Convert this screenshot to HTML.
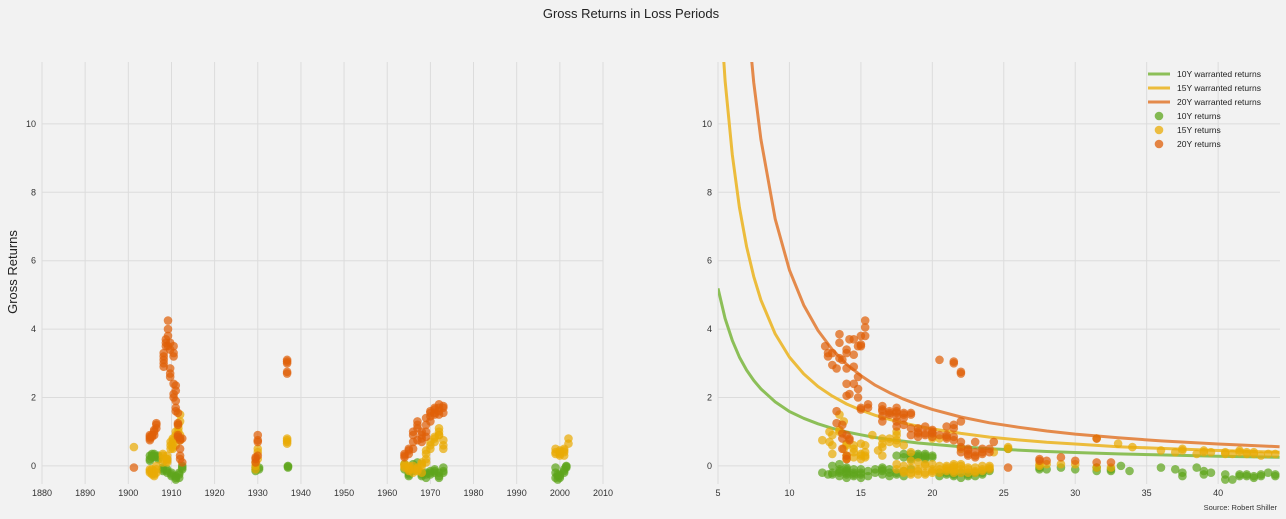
<!DOCTYPE html>
<html><head><meta charset="utf-8">
<style>
html,body{margin:0;padding:0;background:#f2f2f2;}
svg{display:block;font-family:"Liberation Sans","DejaVu Sans",sans-serif;}
</style></head>
<body>
<svg id="chart" width="1286" height="519" viewBox="0 0 1286 519" xmlns="http://www.w3.org/2000/svg">
<rect width="1286" height="519" fill="#f2f2f2"/>
<text x="631" y="18" text-anchor="middle" font-size="13" fill="#222">Gross Returns in Loss Periods</text>
<text transform="translate(17,272) rotate(-90)" text-anchor="middle" font-size="13" fill="#222">Gross Returns</text>
<text x="1277" y="510" text-anchor="end" font-size="7.5" fill="#333">Source: Robert Shiller</text>
<g id="left"></g>
<g id="right"></g>
</svg>
<script>
// ---- data ----
const leftXTicks = [1880,1890,1900,1910,1920,1930,1940,1950,1960,1970,1980,1990,2000,2010];
const rightXTicks = [5,10,15,20,25,30,35,40];
const yTicks = [0,2,4,6,8,10];
const leftGreen = [[1905,[0.15,0.2,0.3]],[1905.5,[0.25,0.35,0.3]],[1906,[0.3,0.35,0.25]],[1907,[0.25,0.3,0.2]],[1908,[-0.1,-0.05,-0.15]],[1909,[-0.15,-0.2,-0.1]],[1910,[-0.25,-0.2,-0.3]],[1911,[-0.35,-0.4,-0.3]],[1911.8,[-0.35,-0.25,-0.2]],[1912.5,[-0.1,-0.05,0.0]],[1929.5,[-0.1,-0.15,-0.05]],[1930.3,[-0.05,-0.1]],[1937,[-0.02,-0.05,0.0]],[1964,[0.05,-0.1]],[1965,[-0.3,-0.25,-0.2]],[1966,[-0.15,-0.1,0.05]],[1967,[0.1,-0.1]],[1968,[-0.25,-0.3,-0.2]],[1969,[-0.35,-0.2,-0.25]],[1970,[-0.2,-0.15,-0.25]],[1971,[-0.1,-0.2,-0.15]],[1972,[-0.2,-0.3,-0.35]],[1973,[-0.05,-0.15,-0.2]],[1999,[-0.05,-0.2,-0.35]],[1999.5,[-0.4,-0.3,-0.25]],[2000,[-0.35,-0.3,-0.25]],[2001,[-0.2,-0.15,-0.1]],[2001.5,[-0.05,0.0,-0.02]]];
const leftYellow = [[1901.3,[0.55]],[1905,[-0.1,-0.15,-0.2]],[1905.5,[-0.25,-0.2,-0.1]],[1906,[-0.15,-0.25,-0.3]],[1906.5,[-0.2,-0.1,0.0]],[1908,[0.1,0.2,0.3,0.35]],[1909,[0.1,0.15,0.2,0.3,0.2]],[1909.8,[0.5,0.6,0.7]],[1910.3,[0.8,0.75,0.65,0.55,0.5]],[1911,[0.6,0.9,1.0]],[1911.6,[1.1,1.2,1.0]],[1912,[1.3,1.5,0.9,0.75]],[1929.5,[0.0,-0.1,0.1]],[1930,[0.2,0.4,0.5]],[1936.8,[0.65,0.7,0.75,0.8]],[1964,[0,-0.05,0.05]],[1965,[-0.05,-0.1,0.0,-0.15]],[1966,[0.0,-0.1,-0.2]],[1967,[-0.1,-0.15,-0.05]],[1968,[0.0,0.1,-0.2,0.05]],[1969,[0.1,0.2,0.35,0.45]],[1970,[0.5,0.6,0.7]],[1971,[0.7,0.8,0.85]],[1972,[0.9,1.0,1.1,0.9]],[1973,[0.75,0.6,0.5]],[1999,[0.35,0.5,0.4]],[2000,[0.3,0.35,0.4,0.45]],[2001,[0.3,0.4,0.5,0.45]],[2002,[0.65,0.8]]];
const leftOrange = [[1901.3,[-0.05]],[1905,[0.75,0.8,0.85,0.9]],[1905.5,[0.85,0.9]],[1906,[0.9,1.0,1.05]],[1906.5,[1.1,1.2,1.25]],[1908.2,[2.9,3.0,3.1,3.2,3.3]],[1908.7,[3.5,3.6,3.7]],[1909.2,[3.8,4.0,4.25,3.5]],[1909.7,[2.6,2.7,2.85,3.4,3.6]],[1910.5,[3.2,3.3,3.5,2.4,2.1,2.0]],[1911,[2.35,2.2,1.9,1.6,1.7]],[1911.5,[1.55,1.25,1.2,0.9,0.85]],[1912,[0.5,0.3,0.2,0.8,0.75]],[1912.5,[0.1,0.8]],[1929.5,[0.25,0.2,0.1]],[1930,[0.3,0.7,0.75,0.9]],[1936.8,[3.0,2.7,2.75,3.05,3.1]],[1964,[0.25,0.35,0.3]],[1965,[0.35,0.45,0.5]],[1966,[0.5,0.7,0.9,1.0]],[1967,[1.1,1.2,1.3,0.75]],[1968,[0.7,0.8,0.9,1.0]],[1969,[0.85,1.0,1.2,1.4]],[1970,[1.45,1.55,1.6,1.3]],[1971,[1.5,1.65,1.7,1.55]],[1972,[1.8,1.7,1.6,1.5]],[1973,[1.55,1.7,1.75]]];
const rightGreen = [[12.3,[-0.2]],[12.7,[-0.25]],[13,[-0.25,0.0,-0.2]],[13.5,[-0.1,-0.2,-0.3,-0.15,0.05]],[14,[-0.2,-0.1,-0.35,-0.25,-0.15,-0.05]],[14.5,[-0.2,-0.3,-0.1,-0.25]],[15,[-0.2,-0.35,-0.1,-0.25]],[15.5,[-0.15,-0.3]],[16,[-0.1,-0.2]],[16.5,[-0.05,-0.15,-0.25,-0.1]],[17,[-0.2,-0.3,-0.1]],[17.5,[-0.25,0.3,-0.2]],[18,[-0.3,-0.15,0.35,0.25]],[18.5,[0.35,0.25,0.2,-0.1]],[19,[0.3,0.25,0.35]],[19.5,[0.3,0.25,0.35,0.2]],[20,[0.3,0.25]],[20.5,[-0.2,-0.3]],[21,[-0.25,-0.2]],[21.5,[-0.3,-0.25]],[22,[-0.2,-0.35]],[22.5,[-0.3,-0.25]],[23,[-0.3,-0.2]],[23.5,[-0.25,-0.2]],[24,[-0.15,-0.1]],[25.3,[0.5]],[27.5,[-0.05,-0.1]],[28,[-0.1]],[29,[-0.05]],[30,[-0.1]],[31.5,[-0.05,-0.15]],[32.5,[-0.1,-0.15]],[33.2,[0.0]],[33.8,[-0.15]],[36,[-0.05]],[37,[-0.1]],[37.5,[-0.2,-0.3]],[38.5,[-0.05]],[39,[-0.25,-0.15]],[39.5,[-0.2]],[40.5,[-0.4,-0.25]],[41,[-0.4]],[41.5,[-0.25,-0.3]],[42,[-0.25,-0.3]],[42.5,[-0.35,-0.3]],[43,[-0.25,-0.3]],[43.5,[-0.2]],[44,[-0.3,-0.25]]];
const rightYellow = [[12.3,[0.75]],[12.8,[0.7,1.0]],[13,[0.35,0.6,0.9]],[13.5,[1.0,1.05,1.5]],[13.8,[1.3,0.5]],[14,[0.25,0.6,0.65,0.3,0.2]],[14.5,[0.4,0.5,0.6,0.25]],[15,[0.35,0.65,0.3,0.2]],[15.3,[0.4,0.25,0.3,0.6]],[15.8,[0.9]],[16.2,[0.45]],[16.5,[0.3,0.65,0.55,0.8]],[17,[0.7,0.8]],[17.5,[0.75,1.0,0.9,0.65,-0.1,0.05]],[18,[-0.2,0.0,-0.15,0.6]],[18.5,[0.15,-0.05,-0.2,-0.25,0.4]],[19,[-0.1,-0.15,-0.25,0.1]],[19.5,[0.0,-0.2,-0.25,0.05]],[20,[-0.1,-0.15,-0.2,0.05,0.8]],[20.5,[-0.1,0,-0.2,0.8]],[21,[-0.05,-0.15,0.0,-0.1]],[21.5,[0.0,-0.05,-0.1,-0.15,-0.2,0.05]],[22,[0.0,-0.1,-0.2,0.05,0.5]],[22.5,[-0.1,-0.2,-0.05]],[23,[-0.15,-0.05,-0.2]],[23.5,[-0.1,0.0,-0.15]],[24,[-0.05,-0.1,0.0]],[24.3,[0.4]],[25.3,[0.55,0.5]],[27.5,[0.05,0.0]],[28,[0.05]],[29,[0.05]],[30,[0.05]],[31.5,[-0.05,0.8]],[32.5,[-0.05]],[33,[0.65]],[34,[0.55]],[36,[0.45]],[37,[0.4]],[37.5,[0.45,0.5]],[38.5,[0.35]],[39,[0.45,0.4]],[39.5,[0.4]],[40.5,[0.35,0.4]],[41,[0.35]],[41.5,[0.4,0.45]],[42,[0.35,0.4]],[42.5,[0.4,0.35]],[43,[0.3]],[43.5,[0.35]],[44,[0.35]]];
const rightOrange = [[12.5,[3.5]],[12.7,[3.3,3.2]],[13,[2.95,3.3]],[13.3,[2.85,1.6,1.25]],[13.5,[3.85,3.15,3.6]],[13.7,[3.1,0.95,1.2,0.8,0.5]],[14,[2.4,2.05,2.85,3.3,3.4,0.2,0.3,0.9]],[14.2,[2.1,3.7,0.8,0.75]],[14.5,[2.4,2.9,3.25,3.7]],[14.8,[2.6,2.0,2.25,3.5]],[15,[3.55,3.8,3.5,1.7,1.65]],[15.3,[3.8,4.25,4.05]],[15.5,[1.8,1.7]],[16.5,[1.6,1.45,1.3,1.75,1.65]],[17,[1.6,1.55,1.5]],[17.5,[1.7,1.6,1.45,1.55,1.3,1.15]],[18,[1.5,1.55,1.4,1.2]],[18.5,[1.5,1.55,1.1,0.9]],[19,[1.1,0.95,0.85,1.0]],[19.5,[0.95,0.9,1.15]],[20,[1.0,0.85,0.95,1.05]],[20.5,[0.9,3.1]],[21,[1.15,0.9,0.8,0.85]],[21.5,[3.05,3.0,1.2,0.75,0.85,1.1]],[22,[2.75,2.7,1.3,0.7,0.55,0.4]],[22.5,[0.35,0.3,0.5,0.45]],[23,[0.3,0.7,0.4,0.25]],[23.5,[0.4,0.35,0.5]],[24,[0.5,0.4]],[24.3,[0.7]],[25.3,[-0.05]],[27.5,[0.2,0.15]],[28,[0.15]],[29,[0.25]],[30,[0.15]],[31.5,[0.1,0.8]],[32.5,[0.1]]];
const curveX = [5,5.5,6,6.5,7,7.5,8,9,10,11,12,13,14,15,16,17,18,19,20,22,24,26,28,30,33,36,40,44.3];
const warranted10 = [5.19,4.31,3.67,3.18,2.80,2.50,2.25,1.87,1.59,1.39,1.23,1.10,0.99,0.91,0.83,0.77,0.72,0.67,0.63,0.56,0.50,0.46,0.42,0.39,0.35,0.32,0.28,0.25];
const warranted15 = [14.4,11.26,9.1,7.56,6.41,5.54,4.85,3.86,3.18,2.69,2.32,2.04,1.81,1.63,1.48,1.36,1.25,1.16,1.08,0.95,0.84,0.76,0.69,0.64,0.56,0.51,0.45,0.40];
const warranted20 = [37.3,27.2,20.8,16.5,13.45,11.22,9.55,7.22,5.73,4.70,3.96,3.40,2.97,2.64,2.36,2.14,1.95,1.79,1.65,1.43,1.26,1.13,1.02,0.93,0.82,0.73,0.64,0.56];

// ---- rendering ----
const NS = 'http://www.w3.org/2000/svg';
const C = {g:'#5ea51c', y:'#e9ab05', o:'#df5f08', gl:'#8cbf58', yl:'#ecbc3c', ol:'#e48a4b'};
function mk(tag, attrs, parent){const e=document.createElementNS(NS,tag);for(const k in attrs)e.setAttribute(k,attrs[k]);parent.appendChild(e);return e;}
const yTop=62, yBot=484, yMin=-0.53, yMax=11.81;
const sy = v => yBot - (v - yMin)/(yMax - yMin)*(yBot - yTop);
function panel(gid, x0, x1, d0, d1, xticks, clipId){
  const g=document.getElementById(gid);
  const sx = v => x0 + (v - d0)/(d1 - d0)*(x1 - x0);
  const defs=mk('defs',{},g);
  const cp=mk('clipPath',{id:clipId},defs);
  mk('rect',{x:x0,y:yTop,width:x1-x0,height:yBot-yTop},cp);
  xticks.forEach(t=>{
    const l=mk('line',{x1:sx(t),x2:sx(t),y1:yTop,y2:yBot,stroke:'#dcdcdc','stroke-width':1},g);
    
    
    const tx=mk('text',{x:sx(t),y:496,'text-anchor':'middle','font-size':9,fill:'#333'},g);
    tx.textContent=t;
    
    
  });
  yTicks.forEach(t=>{
    const l=mk('line',{x1:x0,x2:x1,y1:sy(t),y2:sy(t),stroke:'#dcdcdc','stroke-width':1},g);
    
    
    const tx=mk('text',{x:x0-6,y:sy(t)+3,'text-anchor':'end','font-size':9,fill:'#333'},g);
    tx.textContent=t;
    
    
  });
  const area=mk('g',{'clip-path':'url(#'+clipId+')'},g);
  return {sx, area};
}
function dots(p, data, color, name){
  data.forEach(([x,ys])=>ys.forEach(v=>{
    const c=mk('circle',{cx:p.sx(x),cy:sy(v),r:4.3,fill:color,'fill-opacity':0.72},p.area);
    
    
  }));
}
function curve(p, ys, color, name){
  const d=curveX.map((x,i)=>(i?'L':'M')+p.sx(x).toFixed(1)+','+sy(ys[i]).toFixed(1)).join('');
  const e=mk('path',{d:d,fill:'none',stroke:color,'stroke-width':3,'stroke-linejoin':'round'},p.area);
  
  
}
const L=panel('left',42,603,1880,2010,leftXTicks,'clipL');
dots(L,leftGreen,C.g,'dot-10y');
dots(L,leftYellow,C.y,'dot-15y');
dots(L,leftOrange,C.o,'dot-20y');
const R=panel('right',718,1280,5,44.33,rightXTicks,'clipR');
curve(R,warranted10,C.gl,'line-10y-warranted');
curve(R,warranted15,C.yl,'line-15y-warranted');
curve(R,warranted20,C.ol,'line-20y-warranted');
dots(R,rightGreen,C.g,'dot-10y');
dots(R,rightYellow,C.y,'dot-15y');
dots(R,rightOrange,C.o,'dot-20y');

// legend
const lg=document.getElementById('right');
const legend=mk('g',{},lg);


const entries=[['line',C.gl,'10Y warranted returns'],['line',C.yl,'15Y warranted returns'],['line',C.ol,'20Y warranted returns'],['dot',C.g,'10Y returns'],['dot',C.y,'15Y returns'],['dot',C.o,'20Y returns']];
entries.forEach(([k,col,label],i)=>{
  const y=74+i*14;
  const eg=mk('g',{},legend);
  
  
  if(k==='line') mk('line',{x1:1148,x2:1170,y1:y,y2:y,stroke:col,'stroke-width':3},eg);
  else mk('circle',{cx:1159,cy:y,r:4.3,fill:col,'fill-opacity':0.75},eg);
  const t=mk('text',{x:1177,y:y+3,'font-size':8.5,fill:'#222'},eg);
  t.textContent=label;
});
</script>
</body></html>
